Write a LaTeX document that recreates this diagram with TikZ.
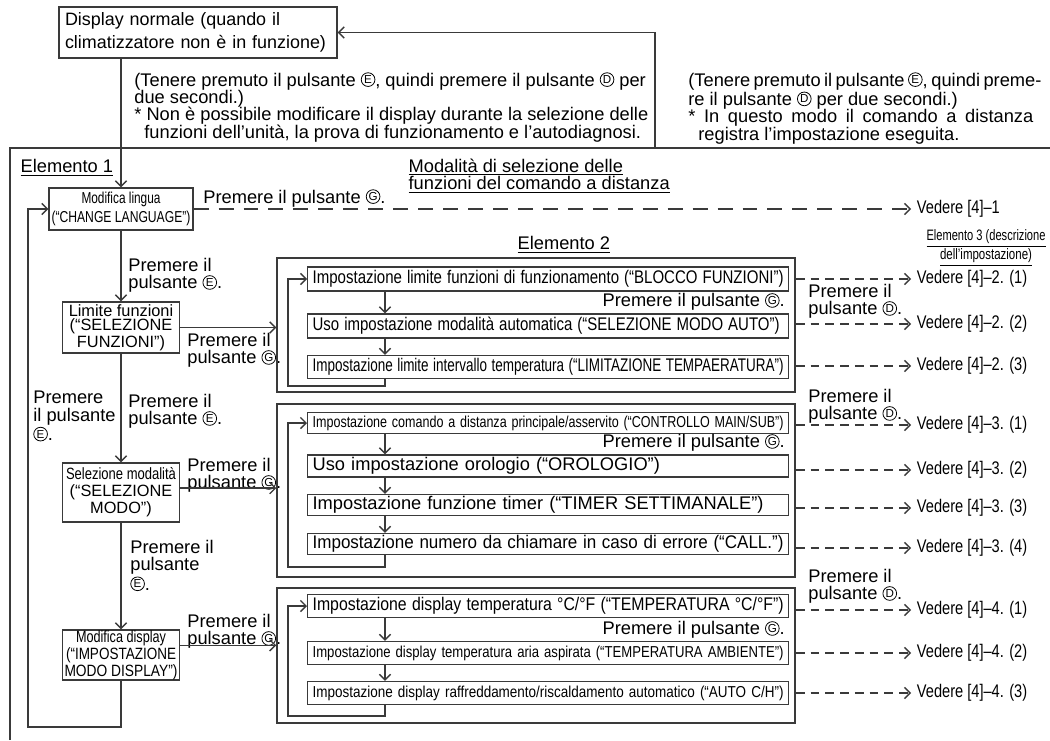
\documentclass[tikz,border=0pt]{standalone}
\usepackage{fontspec}
\setmainfont{Liberation Sans}
\usepackage{graphicx}
\usetikzlibrary{arrows.meta}
\definecolor{flowink}{HTML}{3A3A3A}
% circled button letters, drawn (no installed font has them)
\newcommand\cirl[1]{\tikz[baseline={(0,-3.7pt)}]{%
  \draw[line width=.45pt,black,solid] (0,0) circle[radius=3.9pt];
  \node[anchor=center,draw=none,inner sep=0pt,text=black,font=\fontsize{6.6}{6.6}\selectfont] at (0,0) {#1};}}
\newcommand\cE{\cirl{E}}
\newcommand\cD{\cirl{D}}
\newcommand\cG{\cirl{G}}
\newcommand\fitw[2]{\resizebox{#1}{\height}{#2}}
\newcommand\vnar[1]{\scalebox{.8}[1]{#1}}
\newcommand\fnt{\fontsize{10.4}{9.9}\selectfont}
\newcommand\smfnt{\fontsize{9}{9}\selectfont}
\begin{document}
\begin{tikzpicture}[x=.02cm,y=-.02cm,>={Straight Barb[length=3.2pt,width=6.4pt]},
  color=flowink,text=black,font=\fnt,line width=.75pt,
  box/.style={draw=flowink,inner sep=0pt,align=center,minimum width=2.34cm},
  ibox/.style={draw=flowink,anchor=west,text width=9.42cm,inner xsep=.1cm,inner ysep=0pt,align=left},
  grp/.style={draw=flowink,line width=.9pt,inner sep=0pt},
  note/.style={anchor=north west,inner sep=0pt,align=left},
  dshort/.style={dash pattern=on 5pt off 3.4pt},
  dlong/.style={dash pattern=on 8.5pt off 5.7pt},
  see/.style={anchor=west,inner sep=3pt}]
\useasboundingbox (0,0) rectangle (1050,740);
\fill[white] (0,0) rectangle (1050,740);

% top: normal display and the two notes
\node[draw=flowink,text width=5.32cm,inner xsep=.12cm,minimum height=.9cm,align=left,
  font=\fontsize{10.2}{12.8}\selectfont] (disp) at (198,32.5)
  {Display normale (quando il\\climatizzatore non è in funzione)};
\node[note] (note1) at (134,72)
  {(Tenere premuto il pulsante \cE, quindi premere il pulsante \cD{} per\\
   due secondi.)\\
   * Non è possibile modificare il display durante la selezione delle\\
   \hspace*{.55em}funzioni dell’unità, la prova di funzionamento e l’autodiagnosi.};
\node[note] (note2) at (688,72)
  {\makebox[6.9cm][s]{(Tenere premuto il pulsante \cE, quindi preme-}\\
   re il pulsante \cD{} per due secondi.)\\
   \makebox[6.9cm][s]{* In questo modo il comando a distanza}\\
   \hspace*{.55em}registra l’impostazione eseguita.};

% outer frame and return line
\draw[line width=.9pt] (10,740) -- (10,148) -- (1050,148);
\coordinate (ret) at (655,148);
\draw[->] (ret) |- (disp.east);

% element 1 column
\node[note] (el1) at (20,159) {\underline{Elemento 1}};
\node[box,minimum width=2.88cm,minimum height=.84cm,font=\fontsize{9}{11}\selectfont] (lang) at (121,209)
  {\fitw{1.58cm}{Modifica lingua}\\\fitw{2.78cm}{(“CHANGE LANGUAGE”)}};
\node[box,minimum height=1.02cm,font=\fontsize{9.3}{8}\selectfont] (limf) at (121,327.5)
  {Limite funzioni\\(“SELEZIONE\\FUNZIONI”)};
\node[box,minimum height=1.18cm,font=\fontsize{9.3}{9.6}\selectfont] (selm) at (121,492.5)
  {\fitw{2.2cm}{Selezione modalità}\\(“SELEZIONE\\MODO”)};
\node[box,minimum height=1.0cm,font=\fontsize{9.3}{8.2}\selectfont] (modd) at (121,655)
  {\fitw{1.8cm}{Modifica display}\\\fitw{2.2cm}{(“IMPOSTAZIONE}\\\fitw{2.26cm}{MODO DISPLAY”)}};

\draw[->] (disp.south -| lang.north) -- (lang.north);
\draw[->] (lang.south) -- (limf.north);
\draw[->] (limf.south) -- (selm.north);
\draw[->] (selm.south) -- (modd.north);
\coordinate (lpb) at (28,727);
\draw[->] (modd.south) |- (lpb) |- (lang.west);

\node[note] (pE1) at (128,258) {Premere il\\pulsante \cE.};
\node[note] (pE2a) at (33,391) {Premere\\il pulsante\\\cE.};
\node[note] (pE2) at (128,394) {Premere il\\pulsante \cE.};
\node[note] (pE3) at (130,540) {Premere il\\pulsante\\\cE.};
\node[note] (pG1) at (187,333) {Premere il\\pulsante \cG.};
\node[note] (pG2) at (187,458) {Premere il\\pulsante \cG.};
\node[note] (pG3) at (187,614) {Premere il\\pulsante \cG.};

% remote controller functions
\node[note] (pG0) at (203,189) {Premere il pulsante \cG.};
\node[note] (mode) at (408,158)
  {\underline{Modalità di selezione delle}\\\underline{funzioni del comando a distanza}};
\node[see] (v1) at (911,209) {\vnar{Vedere [4]–1}};
\draw[dlong,->] (lang.east) -- (v1.west);

% element 2 groups
\node[note] (el2) at (517,236) {\underline{Elemento 2}};
\node[grp,minimum width=10.36cm,minimum height=2.68cm] (g1) at (536,325) {};
\node[grp,minimum width=10.36cm,minimum height=3.46cm] (g2) at (536,490.5) {};
\node[grp,minimum width=10.36cm,minimum height=2.7cm] (g3) at (536,655.5) {};

\draw[->] (limf.east) -- (limf.east -| g1.west);
\draw[->] ([yshift=2.5pt]selm.east) -- ([yshift=2.5pt]selm.east -| g2.west);
\draw[->] ([yshift=5.5pt]modd.east) -- ([yshift=5.5pt]modd.east -| g3.west);

\node[ibox,minimum height=.48cm] (g1a) at (307,279)
  {\fitw{9.42cm}{Impostazione limite funzioni di funzionamento (“BLOCCO FUNZIONI”)}};
\node[ibox,minimum height=.48cm] (g1b) at (307,326)
  {\fitw{9.34cm}{Uso impostazione modalità automatica (“SELEZIONE MODO AUTO”)}};
\node[ibox,minimum height=.46cm] (g1c) at (307,367)
  {\fitw{9.42cm}{Impostazione limite intervallo temperatura (“LIMITAZIONE TEMPAERATURA”)}};

\node[ibox,minimum height=.42cm] (g2a) at (307,423)
  {\smfnt\fitw{9.42cm}{Impostazione comando a distanza principale/asservito (“CONTROLLO MAIN/SUB”)}};
\node[ibox,minimum height=.44cm] (g2b) at (307,466)
  {Uso impostazione orologio (“OROLOGIO”)};
\node[ibox,minimum height=.42cm] (g2c) at (307,505)
  {Impostazione funzione timer (“TIMER SETTIMANALE”)};
\node[ibox,minimum height=.42cm] (g2d) at (307,544)
  {\fitw{9.42cm}{Impostazione numero da chiamare in caso di errore (“CALL.”)}};

\node[ibox,minimum height=.46cm] (g3a) at (307,606)
  {\fitw{9.42cm}{Impostazione display temperatura °C/°F (“TEMPERATURA °C/°F”)}};
\node[ibox,minimum height=.46cm] (g3b) at (307,653)
  {\smfnt\fitw{9.42cm}{Impostazione display temperatura aria aspirata (“TEMPERATURA AMBIENTE”)}};
\node[ibox,minimum height=.46cm] (g3c) at (307,693)
  {\smfnt\fitw{9.42cm}{Impostazione display raffreddamento/riscaldamento automatico (“AUTO C/H”)}};

\node[anchor=east,inner sep=0pt] (gG1) at (785,302) {Premere il pulsante \cG.};
\node[anchor=east,inner sep=0pt] (gG2) at (785,443) {Premere il pulsante \cG.};
\node[anchor=east,inner sep=0pt] (gG3) at (785,630) {Premere il pulsante \cG.};

% steps inside each group, and the way back to the first one
\coordinate (drop) at (385,0);
\foreach \a/\b in {g1a/g1b,g1b/g1c,g2a/g2b,g2b/g2c,g2c/g2d,g3a/g3b,g3b/g3c}
  \draw[->] (\a.south -| drop) -- (\b.north -| drop);
\draw[->] (g1c.south -| drop) |- (288,386) |- (g1a.west);
\draw[->] (g2d.south -| drop) |- (288,567) |- (g2a.west);
\draw[->] (g3c.south -| drop) |- (288,716) |- (g3a.west);

% element 3
\node[align=center,inner sep=0pt,font=\fontsize{8.6}{8.6}\selectfont] (el3) at (986,248)
  {\fitw{2.38cm}{\underline{Elemento 3 (descrizione}}\\\fitw{1.84cm}{\underline{dell’impostazione)}}};
\foreach \g/\n/\y/\t in {g1/v21/279/{2. (1)},g1/v22/324/{2. (2)},g1/v23/366/{2. (3)},
    g2/v31/425/{3. (1)},g2/v32/470/{3. (2)},g2/v33/508/{3. (3)},g2/v34/548/{3. (4)},
    g3/v41/610/{4. (1)},g3/v42/653/{4. (2)},g3/v43/693/{4. (3)}}{
  \node[see] (\n) at (911,\y) {\vnar{Vedere [4]–\t}};
  \draw[dshort,->] (\g.east |- \n.west) -- (\n.west);
}
\node[note] (pD1) at (808,284) {Premere il\\pulsante \cD.};
\node[note] (pD2) at (808,389) {Premere il\\pulsante \cD.};
\node[note] (pD3) at (808,569) {Premere il\\pulsante \cD.};
\end{tikzpicture}
\end{document}
